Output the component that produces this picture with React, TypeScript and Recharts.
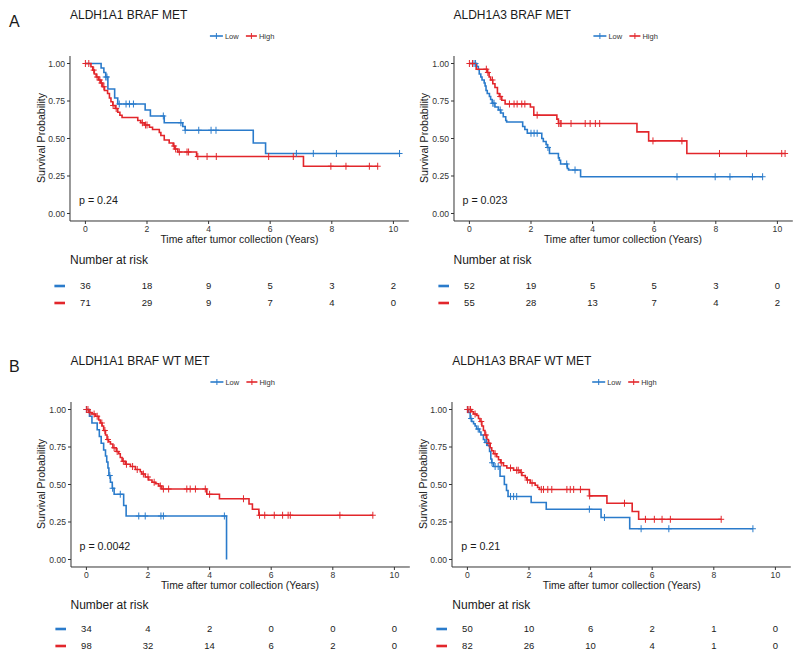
import React from "react";
import { ComposedChart, Line, Scatter, XAxis, YAxis } from "recharts";

const BLUE = "#2a7bcb";
const RED = "#e2262b";
const INK = "#1a1a1a";
const FONT = "'Liberation Sans', Arial, Helvetica, sans-serif";

const xTicks = [0, 2, 4, 6, 8, 10];
const yTicks = [0, 0.25, 0.5, 0.75, 1];
const riskTimes = [0, 2, 4, 6, 8, 10];

// ALDH1A1 BRAF MET  ([time, survival after drop])
const a1MetLowEvents = [[0.51, 0.97], [0.6, 0.94], [0.66, 0.91], [0.73, 0.83], [0.95, 0.77], [1.05, 0.73], [1.94, 0.69], [2.11, 0.65], [2.56, 0.605], [3.16, 0.58], [3.24, 0.555], [5.45, 0.47], [5.85, 0.4]];
const a1MetLowCensor = [0.66, 0.7, 1.1, 1.32, 1.43, 1.56, 2.53, 3.1, 3.24, 3.68, 4.08, 4.24, 6.85, 7.4, 8.15, 10.2];
const a1MetHighEvents = [[0.18, 0.978], [0.24, 0.956], [0.29, 0.93], [0.35, 0.91], [0.43, 0.89], [0.49, 0.87], [0.56, 0.845], [0.62, 0.82], [0.72, 0.8], [0.78, 0.77], [0.83, 0.745], [0.89, 0.72], [0.97, 0.7], [1.05, 0.675], [1.12, 0.655], [1.19, 0.64], [1.7, 0.62], [1.8, 0.605], [1.91, 0.59], [2.08, 0.575], [2.18, 0.56], [2.4, 0.54], [2.45, 0.52], [2.56, 0.49], [2.72, 0.47], [2.85, 0.45], [2.9, 0.43], [3.0, 0.41], [3.61, 0.38], [7.08, 0.315]];
const a1MetHighCensor = [0, 0.11, 0.27, 0.38, 0.47, 0.52, 0.6, 0.9, 1.0, 1.85, 1.95, 2.0, 2.88, 2.93, 3.05, 3.3, 3.35, 3.65, 3.95, 4.25, 5.95, 6.75, 7.97, 8.46, 9.22, 9.49];
const a1MetRiskLow = [36, 18, 9, 5, 3, 2];
const a1MetRiskHigh = [71, 29, 9, 7, 4, 0];

// ALDH1A3 BRAF MET
const a3MetLowEvents = [[0.24, 0.98], [0.29, 0.96], [0.32, 0.93], [0.37, 0.91], [0.41, 0.89], [0.48, 0.87], [0.51, 0.85], [0.54, 0.82], [0.58, 0.8], [0.65, 0.78], [0.69, 0.76], [0.74, 0.735], [0.83, 0.71], [0.94, 0.69], [1.02, 0.67], [1.1, 0.645], [1.18, 0.62], [1.21, 0.61], [1.73, 0.58], [1.8, 0.56], [1.88, 0.535], [2.35, 0.5], [2.4, 0.48], [2.49, 0.46], [2.53, 0.44], [2.6, 0.4], [2.89, 0.371], [2.92, 0.355], [2.96, 0.33], [3.18, 0.3], [3.22, 0.29], [3.61, 0.245]];
const a3MetLowCensor = [0.15, 0.2, 0.76, 0.8, 1.0, 2.0, 2.1, 2.2, 2.55, 3.16, 3.43, 6.74, 7.98, 8.46, 9.19, 9.52];
const a3MetHighEvents = [[0.22, 0.962], [0.58, 0.94], [0.64, 0.91], [0.69, 0.89], [0.76, 0.865], [0.83, 0.84], [0.91, 0.8], [0.97, 0.78], [1.05, 0.755], [1.16, 0.73], [1.98, 0.71], [2.09, 0.656], [2.84, 0.629], [2.89, 0.6], [5.44, 0.544], [5.82, 0.484], [7.06, 0.4]];
const a3MetHighCensor = [0, 0.1, 0.55, 0.6, 0.75, 1.0, 1.3, 1.45, 1.55, 1.7, 1.8, 2.2, 2.9, 2.95, 2.98, 3.3, 3.76, 3.92, 4.09, 4.23, 5.96, 6.9, 8.12, 9.0, 10.14, 10.25];
const a3MetRiskLow = [52, 19, 5, 5, 3, 0];
const a3MetRiskHigh = [55, 28, 13, 7, 4, 2];

// ALDH1A1 BRAF WT MET
const a1WtLowEvents = [[0.1, 0.955], [0.18, 0.91], [0.35, 0.865], [0.42, 0.82], [0.48, 0.775], [0.56, 0.73], [0.62, 0.69], [0.66, 0.65], [0.7, 0.61], [0.73, 0.56], [0.78, 0.515], [0.84, 0.475], [0.9, 0.435], [1.21, 0.36], [1.29, 0.29], [4.55, 0.0]];
const a1WtLowCensor = [0.0, 0.76, 0.85, 1.1, 1.7, 1.91, 2.42, 2.5, 4.48];
const a1WtHighEvents = [[0.08, 0.98], [0.18, 0.97], [0.29, 0.955], [0.4, 0.93], [0.45, 0.91], [0.51, 0.89], [0.56, 0.86], [0.62, 0.83], [0.67, 0.8], [0.72, 0.785], [0.78, 0.77], [0.86, 0.745], [0.97, 0.72], [1.05, 0.705], [1.1, 0.68], [1.16, 0.655], [1.26, 0.635], [1.43, 0.62], [1.59, 0.6], [1.75, 0.585], [1.8, 0.57], [1.91, 0.55], [2.02, 0.53], [2.13, 0.515], [2.24, 0.505], [2.35, 0.49], [2.45, 0.47], [3.91, 0.435], [4.32, 0.405], [5.28, 0.37], [5.39, 0.335], [5.6, 0.295]];
const a1WtHighCensor = [0, 0.05, 0.12, 0.25, 0.35, 0.5, 0.6, 0.7, 0.9, 1.0, 1.2, 1.3, 1.5, 1.65, 1.85, 2.0, 2.2, 2.4, 2.5, 2.67, 3.26, 3.37, 3.54, 3.86, 4.0, 5.1, 5.62, 5.79, 6.1, 6.37, 6.55, 6.62, 8.23, 9.3];
const a1WtRiskLow = [34, 4, 2, 0, 0, 0];
const a1WtRiskHigh = [98, 32, 14, 6, 2, 0];

// ALDH1A3 BRAF WT MET
const a3WtLowEvents = [[0.03, 0.98], [0.09, 0.94], [0.14, 0.92], [0.2, 0.905], [0.25, 0.89], [0.3, 0.87], [0.39, 0.85], [0.44, 0.83], [0.52, 0.8], [0.57, 0.78], [0.65, 0.76], [0.72, 0.72], [0.76, 0.67], [0.79, 0.645], [0.85, 0.62], [1.06, 0.555], [1.2, 0.5], [1.27, 0.46], [1.32, 0.42], [2.07, 0.38], [2.56, 0.335], [4.34, 0.28], [5.27, 0.205]];
const a3WtLowCensor = [0.0, 0.12, 0.35, 0.62, 0.8, 0.9, 1.0, 1.4, 1.5, 1.6, 3.96, 4.45, 5.64, 6.54, 9.27];
const a3WtHighEvents = [[0.14, 0.985], [0.2, 0.97], [0.3, 0.96], [0.36, 0.94], [0.41, 0.92], [0.47, 0.89], [0.52, 0.86], [0.57, 0.83], [0.63, 0.8], [0.68, 0.775], [0.74, 0.745], [0.79, 0.725], [0.85, 0.705], [0.95, 0.685], [1.01, 0.665], [1.08, 0.645], [1.17, 0.625], [1.28, 0.61], [1.5, 0.595], [1.71, 0.58], [1.77, 0.56], [1.88, 0.545], [1.93, 0.53], [2.04, 0.51], [2.2, 0.495], [2.28, 0.48], [2.34, 0.467], [3.96, 0.424], [4.53, 0.375], [5.35, 0.32], [5.56, 0.268]];
const a3WtHighCensor = [0, 0.05, 0.1, 0.25, 0.45, 0.6, 0.7, 0.9, 1.1, 1.4, 1.6, 1.65, 1.75, 1.95, 2.1, 2.4, 2.47, 2.61, 2.74, 3.23, 3.34, 3.45, 3.67, 3.97, 5.1, 5.78, 6.07, 6.32, 6.59, 8.24];
const a3WtRiskLow = [50, 10, 6, 2, 1, 0];
const a3WtRiskHigh = [82, 26, 10, 4, 1, 0];

type Pt = { t: number; s: number };

// KM step line: start at 1, each drop, then flat until last follow-up
function stepLine(events: number[][], censors: number[]): Pt[] {
  const pts: Pt[] = [{ t: 0, s: 1 }];
  events.forEach(([t, s]) => pts.push({ t, s }));
  const last = pts[pts.length - 1];
  const end = Math.max(last.t, ...censors);
  if (end > last.t) pts.push({ t: end, s: last.s });
  return pts;
}

function censorPts(events: number[][], censors: number[]): Pt[] {
  return censors.map((t) => {
    let s = 1;
    for (const [et, es] of events) if (et <= t) s = es;
    return { t, s };
  });
}

const plusShape = (color: string) => (props: any) => {
  const { cx, cy } = props;
  if (cx == null || cy == null) return <g />;
  return (
    <g stroke={color} strokeWidth={1}>
      <line x1={cx - 3} x2={cx + 3} y1={cy} y2={cy} />
      <line x1={cx} x2={cx} y1={cy - 3.5} y2={cy + 3.5} />
    </g>
  );
};

const PW = 338.8;
const PH = 165;
const YW = 45;
const MT = 5;
const XH = 25;

function KMChart({ left, top, lowE, lowC, highE, highC }: any) {
  return (
    <div style={{ position: "absolute", left: left - YW, top: top - MT }}>
      <ComposedChart width={YW + PW + 6} height={MT + PH + XH} margin={{ top: MT, right: 6, left: 0, bottom: 0 }}>
        <XAxis
          type="number"
          dataKey="t"
          domain={[-0.5, 10.5]}
          ticks={xTicks}
          allowDataOverflow
          height={XH}
          stroke="#333"
          tickSize={3}
          tickMargin={2}
          tick={{ fontSize: 8.6, fill: "#333", fontFamily: FONT }}
        />
        <YAxis
          type="number"
          dataKey="s"
          domain={[-0.05, 1.05]}
          ticks={yTicks}
          allowDataOverflow
          width={YW}
          stroke="#333"
          tickSize={3}
          tickMargin={2}
          tickFormatter={(v: number) => v.toFixed(2)}
          tick={{ fontSize: 8.6, fill: "#333", fontFamily: FONT }}
        />
        <Line data={stepLine(lowE, lowC)} dataKey="s" type="stepAfter" stroke={BLUE} strokeWidth={1.6} dot={false} isAnimationActive={false} />
        <Line data={stepLine(highE, highC)} dataKey="s" type="stepAfter" stroke={RED} strokeWidth={1.6} dot={false} isAnimationActive={false} />
        <Scatter data={censorPts(lowE, lowC)} fill={BLUE} shape={plusShape(BLUE)} isAnimationActive={false} />
        <Scatter data={censorPts(highE, highC)} fill={RED} shape={plusShape(RED)} isAnimationActive={false} />
      </ComposedChart>
    </div>
  );
}

const riskCell = (color: string) => (props: any) => {
  const { cx, cy, payload } = props;
  if (cx == null || cy == null) return <g />;
  return (
    <g>
      {payload.t === 0 && <rect x={cx - 31} y={cy - 1.3} width={10.6} height={2.6} fill={color} />}
      <text x={cx} y={cy} dy="0.35em" textAnchor="middle" fontSize={9.5} fill={INK} fontFamily={FONT}>
        {payload.n}
      </text>
    </g>
  );
};

function RiskTable({ left, rowTop, gap, low, high }: any) {
  const lowData = riskTimes.map((t, i) => ({ t, s: 1, n: low[i] }));
  const highData = riskTimes.map((t, i) => ({ t, s: 0, n: high[i] }));
  return (
    <div style={{ position: "absolute", left: left - 40, top: rowTop - 8 }}>
      <ComposedChart width={40 + PW + 10} height={gap + 16} margin={{ top: 8, bottom: 8, left: 40, right: 10 }}>
        <XAxis type="number" dataKey="t" domain={[-0.5, 10.5]} hide />
        <YAxis type="number" dataKey="s" domain={[0, 1]} hide />
        <Scatter data={lowData} shape={riskCell(BLUE)} isAnimationActive={false} />
        <Scatter data={highData} shape={riskCell(RED)} isAnimationActive={false} />
      </ComposedChart>
    </div>
  );
}

function Decor({ left, top, title, pval, axisY, riskHeadY }: any) {
  const cx = left + PW / 2;
  const cy = top + PH / 2;
  const ly = top - 19.5;
  return (
    <g fontFamily={FONT}>
      <text x={left} y={top - 36.5} fontSize={12} fill={INK}>{title}</text>
      {/* legend */}
      <g strokeWidth={1.6}>
        <line x1={cx - 29.5} x2={cx - 16.5} y1={ly} y2={ly} stroke={BLUE} />
        <line x1={cx - 23} x2={cx - 23} y1={ly - 3} y2={ly + 3} stroke={BLUE} strokeWidth={1} />
        <line x1={cx + 6.5} x2={cx + 17.5} y1={ly} y2={ly} stroke={RED} />
        <line x1={cx + 12} x2={cx + 12} y1={ly - 3} y2={ly + 3} stroke={RED} strokeWidth={1} />
      </g>
      <text x={cx - 14.5} y={ly} dy="0.35em" fontSize={7.5} fill="#333">Low</text>
      <text x={cx + 19.5} y={ly} dy="0.35em" fontSize={7.5} fill="#333">High</text>
      <text x={left - 25.5} y={cy} transform={`rotate(-90, ${left - 25.5}, ${cy})`} textAnchor="middle" fontSize={10.6} fill={INK}>
        Survival Probability
      </text>
      <text x={cx} y={axisY + 22.5} textAnchor="middle" fontSize={10.4} fill={INK}>
        Time after tumor collection (Years)
      </text>
      <text x={left + 9} y={top + 148.5} fontSize={10.7} fill={INK}>{pval}</text>
      <text x={left} y={riskHeadY} fontSize={12} fill={INK}>Number at risk</text>
    </g>
  );
}

export default function App() {
  const topA = 55.5;
  const topB = 401.5;
  return (
    <div style={{ position: "absolute", left: 0, top: 0, width: 800, height: 669, background: "#fff", overflow: "hidden", fontFamily: FONT }}>
      <KMChart left={70} top={topA} lowE={a1MetLowEvents} lowC={a1MetLowCensor} highE={a1MetHighEvents} highC={a1MetHighCensor} />
      <KMChart left={453.5} top={topA} lowE={a3MetLowEvents} lowC={a3MetLowCensor} highE={a3MetHighEvents} highC={a3MetHighCensor} />
      <KMChart left={70.5} top={topB} lowE={a1WtLowEvents} lowC={a1WtLowCensor} highE={a1WtHighEvents} highC={a1WtHighCensor} />
      <KMChart left={452.3} top={topB} lowE={a3WtLowEvents} lowC={a3WtLowCensor} highE={a3WtHighEvents} highC={a3WtHighCensor} />

      <RiskTable left={70} rowTop={285.5} gap={17} low={a1MetRiskLow} high={a1MetRiskHigh} />
      <RiskTable left={453.5} rowTop={285.5} gap={17} low={a3MetRiskLow} high={a3MetRiskHigh} />
      <RiskTable left={70.5} rowTop={629} gap={17} low={a1WtRiskLow} high={a1WtRiskHigh} />
      <RiskTable left={452.3} rowTop={629} gap={17} low={a3WtRiskLow} high={a3WtRiskHigh} />

      <svg width={800} height={669} style={{ position: "absolute", left: 0, top: 0, pointerEvents: "none" }}>
        <text x={9} y={27} fontSize={16} fill={INK} fontFamily={FONT}>A</text>
        <text x={9} y={372} fontSize={16} fill={INK} fontFamily={FONT}>B</text>
        <Decor left={70} top={topA} title="ALDH1A1 BRAF MET" pval="p = 0.24" axisY={topA + PH} riskHeadY={264} />
        <Decor left={453.5} top={topA} title="ALDH1A3 BRAF MET" pval="p = 0.023" axisY={topA + PH} riskHeadY={264} />
        <Decor left={70.5} top={topB} title="ALDH1A1 BRAF WT MET" pval="p = 0.0042" axisY={topB + PH} riskHeadY={608.5} />
        <Decor left={452.3} top={topB} title="ALDH1A3 BRAF WT MET" pval="p = 0.21" axisY={topB + PH} riskHeadY={608.5} />
      </svg>
    </div>
  );
}
